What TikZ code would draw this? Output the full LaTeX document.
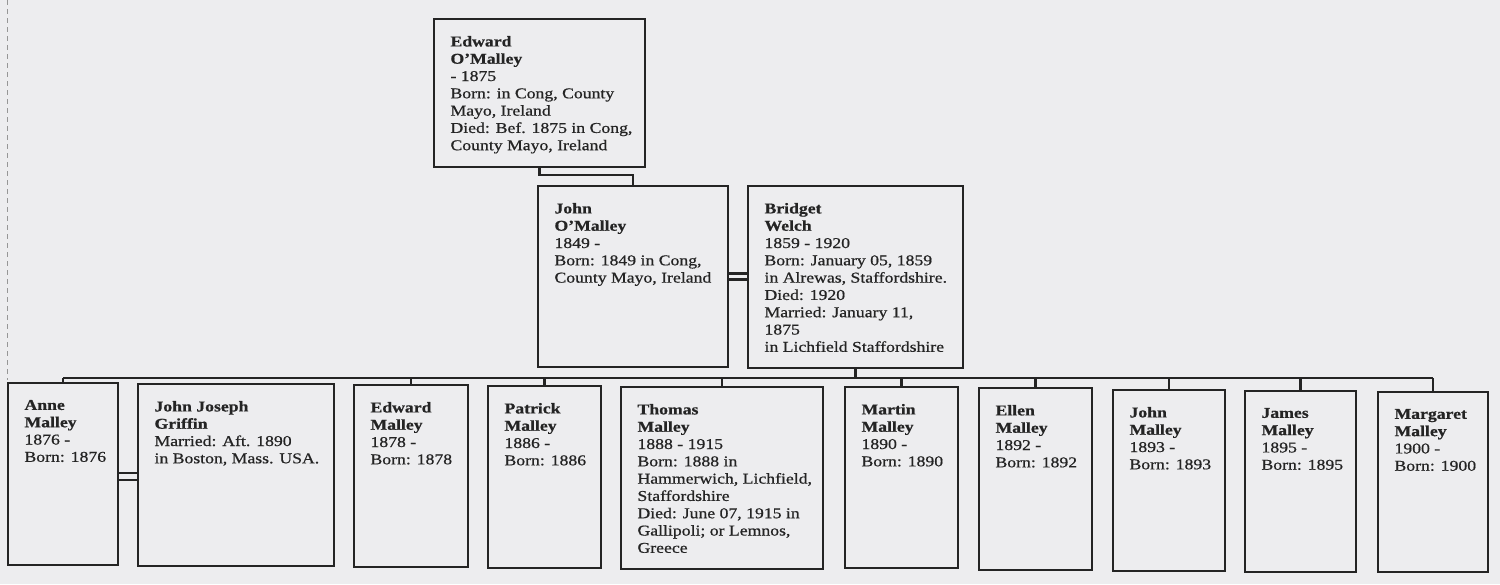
\documentclass[tikz,border=0pt]{standalone}
\usepackage{fontspec}
\setmainfont{Liberation Serif}[FakeStretch=1.18, FakeBold=0.7]
\definecolor{paper}{RGB}{237,237,239}
\definecolor{ink}{RGB}{36,36,36}
\definecolor{faint}{RGB}{150,150,150}
\tikzset{
  famframe/.style={draw=ink, line width=2.8pt, fill=paper, inner sep=0pt, outer sep=0pt, anchor=north west},
  famtext/.style={anchor=north west, inner sep=0pt, outer sep=0pt, align=left, text=ink,
                  font=\fontsize{15}{17.3}\selectfont},
  famline/.style={draw=ink, line width=2.3pt}
}
\newcommand\famnode[6]{%
  \node[famframe, minimum width={#4-#2}, minimum height={#5-#3}] (#1) at (#2,#3) {};
  \node[famtext] (#1t) at (#2+16.5,#3+17) {#6};}
\begin{document}
\begin{tikzpicture}[x=1pt,y=-1pt]
\fill[paper] (0,0) rectangle (1500,584);
\useasboundingbox (0,0) rectangle (1500,584);
\draw[faint, line width=0.8pt, dash pattern=on 5pt off 4pt] (7,0) -- (7,380);

\coordinate (bus) at (0,378);

\famnode{edw}{434}{19}{645}{167}{\textbf{Edward}\\\textbf{O'Malley}\\- 1875\\Born: in Cong, County\\Mayo, Ireland\\Died: Bef. 1875 in Cong,\\County Mayo, Ireland}
\famnode{john}{538}{186}{728}{367}{\textbf{John}\\\textbf{O'Malley}\\1849 -\\Born: 1849 in Cong,\\County Mayo, Ireland}
\famnode{brid}{748}{186}{963}{368}{\textbf{Bridget}\\\textbf{Welch}\\1859 - 1920\\Born: January 05, 1859\\in Alrewas, Staffordshire.\\Died: 1920\\Married: January 11,\\1875\\in Lichfield Staffordshire}

\famnode{anne}{8}{383}{118}{565}{\textbf{Anne}\\\textbf{Malley}\\1876 -\\Born: 1876}
\famnode{grif}{138}{384}{334}{566}{\textbf{John Joseph}\\\textbf{Griffin}\\Married: Aft. 1890\\in Boston, Mass. USA.}
\famnode{edwa}{354}{385}{468}{567}{\textbf{Edward}\\\textbf{Malley}\\1878 -\\Born: 1878}
\famnode{pat}{488}{386}{601}{568}{\textbf{Patrick}\\\textbf{Malley}\\1886 -\\Born: 1886}
\famnode{tho}{621}{387}{823}{569}{\textbf{Thomas}\\\textbf{Malley}\\1888 - 1915\\Born: 1888 in\\Hammerwich, Lichfield,\\Staffordshire\\Died: June 07, 1915 in\\Gallipoli; or Lemnos,\\Greece}
\famnode{mart}{845}{387}{958}{568}{\textbf{Martin}\\\textbf{Malley}\\1890 -\\Born: 1890}
\famnode{ell}{979}{388}{1092}{570}{\textbf{Ellen}\\\textbf{Malley}\\1892 -\\Born: 1892}
\famnode{johb}{1113}{390}{1225}{571}{\textbf{John}\\\textbf{Malley}\\1893 -\\Born: 1893}
\famnode{jam}{1245}{391}{1356}{572}{\textbf{James}\\\textbf{Malley}\\1895 -\\Born: 1895}
\famnode{marg}{1378}{392}{1488}{572}{\textbf{Margaret}\\\textbf{Malley}\\1900 -\\Born: 1900}

% parent link
\draw[famline] (edw.south) -- ++(0,8) -| (john.north);
% marriages
\draw[famline] ([yshift=3pt]john.east) -- ([yshift=3pt]john.east -| brid.west);
\draw[famline] ([yshift=-3pt]john.east) -- ([yshift=-3pt]john.east -| brid.west);
\draw[famline] ([yshift=1pt]anne.east) -- ([yshift=1pt]anne.east -| grif.west);
\draw[famline] ([yshift=-6pt]anne.east) -- ([yshift=-6pt]anne.east -| grif.west);
% children bus
\draw[famline] (brid.south) -- (brid.south |- bus);
\draw[famline] (anne.north |- bus) -- (marg.north |- bus);
\foreach \c in {anne,edwa,pat,tho,mart,ell,johb,jam,marg}
  \draw[famline] (\c.north) -- (\c.north |- bus);
\end{tikzpicture}
\end{document}
